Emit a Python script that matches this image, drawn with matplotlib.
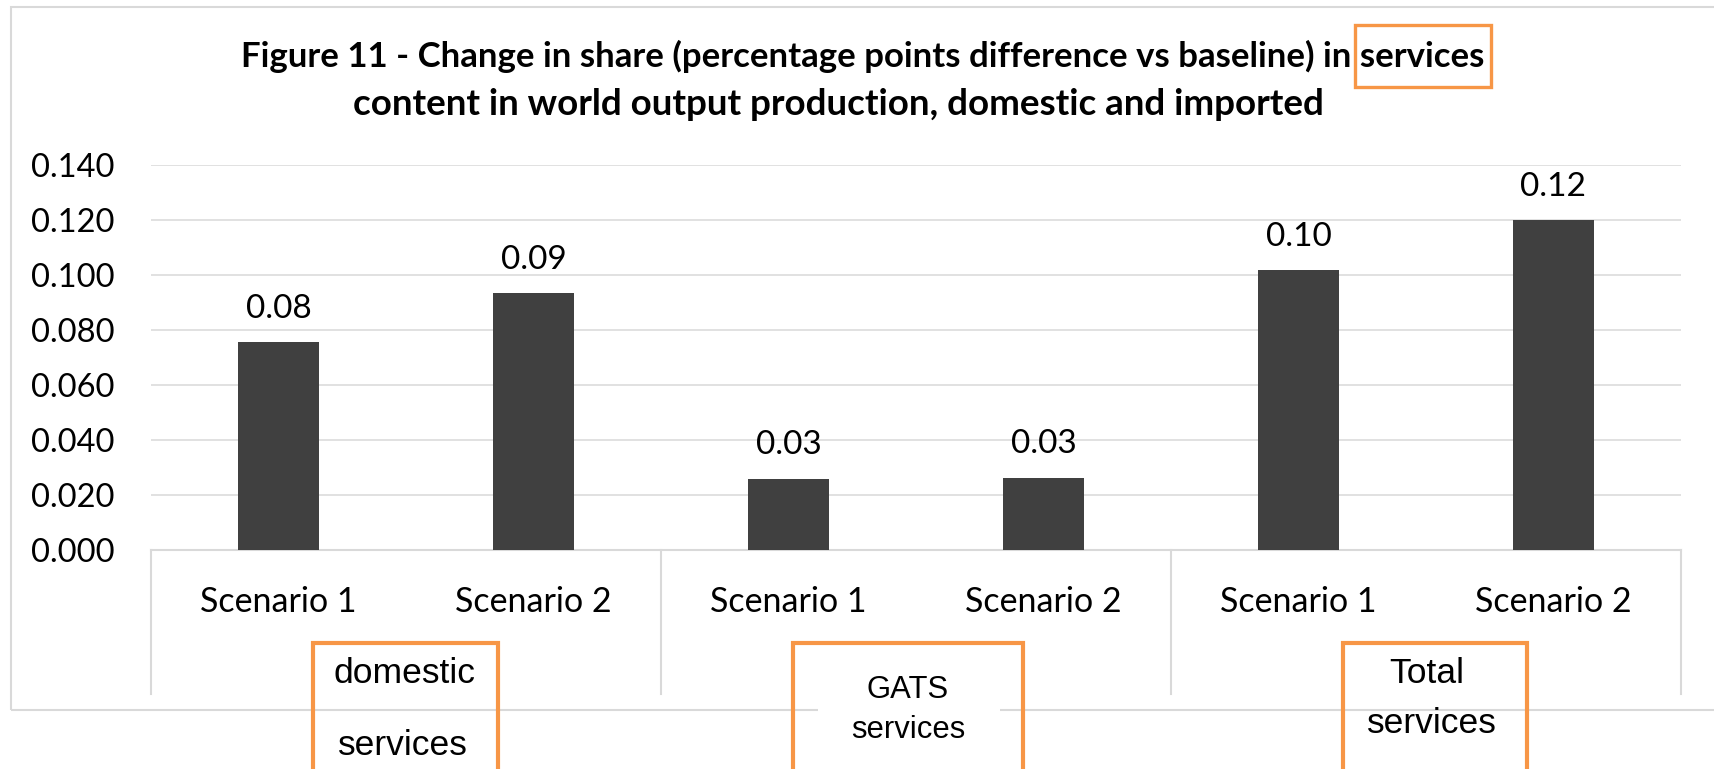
import matplotlib.pyplot as plt
from matplotlib.patches import Rectangle

# figure size in pixels (saved at dpi 100)
W, H = 1715, 769

# data
scenarios = ["Scenario 1", "Scenario 2", "Scenario 1", "Scenario 2", "Scenario 1", "Scenario 2"]
values = [0.0755, 0.0933, 0.0259, 0.0263, 0.1018, 0.1200]
groups = [["domestic", "services"], ["GATS", "services"], ["Total", "services"]]
y_ticks = [0.000, 0.020, 0.040, 0.060, 0.080, 0.100, 0.120, 0.140]
title_lines = ["Figure 11 - Change in share (percentage points difference vs baseline) in services",
               "content in world output production, domestic and imported"]

BAR = "#404040"
GRID = "#d9d9d9"
ORANGE = "#F79646"


def fx(x):
    return x / W


def fy(y):
    return 1 - y / H


fig = plt.figure(figsize=(W / 100, H / 100), dpi=100)

# outer chart border (runs past the right edge in the original)
fig.add_artist(Rectangle((fx(11), fy(710)), fx(1740) - fx(11), fy(7) - fy(710),
                         transform=fig.transFigure, fill=False, ec=GRID, lw=1.5))

ax = fig.add_axes([fx(151), fy(550), fx(1681) - fx(151), fy(165) - fy(550)])
x = list(range(len(values)))
ax.bar(x, values, width=0.314, color=BAR, zorder=3)
ax.set_xlim(-0.5, len(values) - 0.5)
ax.set_ylim(0, 0.14)

ax.set_yticks(y_ticks)
ax.set_yticklabels([f"{t:.3f}" for t in y_ticks], fontsize=23.5, fontfamily="Lato")
ax.tick_params(axis="y", length=0, pad=26)
ax.yaxis.grid(True, color=GRID, lw=1.1, zorder=0)
ax.set_xticks([])
for s in ["top", "right", "left"]:
    ax.spines[s].set_visible(False)
ax.spines["bottom"].set_color(GRID)
ax.spines["bottom"].set_linewidth(1.5)

# value labels
for xi, v in zip(x, values):
    ax.annotate(f"{v:.2f}", (xi, v), xytext=(0, 17.6), textcoords="offset points",
                ha="center", va="baseline", fontsize=24, fontfamily="Lato")

# scenario labels
for xi, lab in zip(x, scenarios):
    ax.annotate(lab, (xi, 0), xycoords=("data", "axes fraction"), xytext=(0, -44.4),
                textcoords="offset points", ha="center", va="baseline",
                fontsize=24.5, fontfamily="Lato")

# group separators of the category axis
for sx in [-0.5, 1.5, 3.5, 5.5]:
    ax.plot([sx, sx], [0, -144 / 385], color=GRID, lw=1.5,
            transform=ax.get_xaxis_transform(), clip_on=False)

# title
fig.text(fx(863), fy(67), title_lines[0], ha="center", va="baseline",
         fontsize=25, fontweight="bold", fontfamily="Lato")
fig.text(fx(838), fy(115), title_lines[1], ha="center", va="baseline",
         fontsize=26.5, fontweight="bold", fontfamily="Lato")
fig.add_artist(Rectangle((fx(1355), fy(87)), fx(1491) - fx(1355), fy(25) - fy(87),
                         transform=fig.transFigure, fill=False, ec=ORANGE, lw=2.4))

# white patch behind the GATS text box over the chart border
fig.add_artist(Rectangle((fx(818), fy(716)), fx(1000) - fx(818), fy(704) - fy(716),
                         transform=fig.transFigure, fc="white", ec="none"))

# orange highlighted group label boxes
box_x = [(313, 498), (793, 1023), (1343, 1527)]
text_x = [(405, 403), (908, 908), (1427, 1432)]
baselines = [(683, 755), (698, 738), (683, 733)]
box_fs = [25.5, 22.3, 25.5]
for (x0, x1), tx, bl, fs, lines in zip(box_x, text_x, baselines, box_fs, groups):
    fig.add_artist(Rectangle((fx(x0), fy(800)), fx(x1) - fx(x0), fy(643) - fy(800),
                             transform=fig.transFigure, fill=False, ec=ORANGE, lw=3))
    for t, lx, ly in zip(lines, tx, bl):
        fig.text(fx(lx), fy(ly), t, ha="center", va="baseline", fontsize=fs,
                 fontfamily="Liberation Sans")

fig.savefig("out.png", dpi=100)
